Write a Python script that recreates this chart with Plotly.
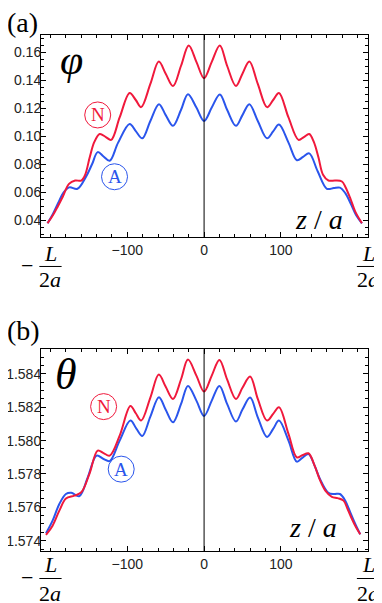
import plotly.graph_objects as go

# ---- panel (a): phi ----
z_phi_N = [-204, -197, -190.8, -184, -176, -168, -160, -155, -149, -143, -136, -128, -121, -110, -97, -89, -82,
           -70, -59, -50, -40.5, -30, -20, -10, 0, 10, 20.5, 30, 41.5, 50, 59, 70, 82, 90, 97.6, 110, 123, 130,
           137, 143, 149, 155, 162, 171, 179.6, 184, 191, 197, 205.7]
phi_N = [0.0378, 0.0435, 0.0497, 0.057, 0.066, 0.0684, 0.0684, 0.0725, 0.085, 0.096, 0.1017, 0.0995, 0.0975,
         0.1135, 0.131, 0.126, 0.1209, 0.1375, 0.1535, 0.1448, 0.136, 0.1505, 0.165, 0.1533, 0.1416, 0.1533,
         0.165, 0.1505, 0.136, 0.1448, 0.1535, 0.1375, 0.1209, 0.126, 0.131, 0.1135, 0.0975, 0.0995, 0.1017,
         0.096, 0.085, 0.0725, 0.0684, 0.0684, 0.0677, 0.064, 0.055, 0.0461, 0.0378]

z_phi_A = [-204, -197, -190, -183, -175.6, -165, -154, -146, -138.6, -131, -123, -112, -97, -89, -80.5, -70,
           -58.8, -50, -40.5, -30, -21, -10, 0, 10, 20.5, 30, 41.5, 50, 59, 70, 82, 90, 97.6, 110, 121, 129, 137,
           148, 160, 169, 177, 184, 191, 198, 205.7]
phi_A = [0.0378, 0.0445, 0.0525, 0.060, 0.0635, 0.0625, 0.071, 0.080, 0.0887, 0.0856, 0.0825, 0.0955, 0.1089,
         0.1037, 0.0986, 0.111, 0.123, 0.1152, 0.1075, 0.119, 0.1302, 0.1206, 0.111, 0.1206, 0.130, 0.119,
         0.1075, 0.1152, 0.123, 0.111, 0.0986, 0.1035, 0.1084, 0.0955, 0.0829, 0.0853, 0.0878, 0.075, 0.0625,
         0.063, 0.0633, 0.0594, 0.052, 0.0438, 0.0378]

# ---- panel (b): theta ----
z_th_N = [-206, -197.4, -188.6, -180, -169, -160, -149.4, -138.6, -131, -123, -110, -96, -89, -82, -70, -59,
          -50, -40.5, -30, -21, -10, 0, 10, 20, 30, 41.5, 50, 60, 70, 82, 90, 97.6, 110, 120.8, 128, 136, 144,
          151, 158, 166.5, 174, 181.7, 187, 192.7, 198, 203.5]
th_N = [1.57434, 1.5749, 1.5758, 1.57653, 1.5767, 1.5769, 1.5780, 1.5794, 1.57925, 1.5791, 1.5803, 1.58208,
        1.58164, 1.5812, 1.58258, 1.58396, 1.58323, 1.5825, 1.58368, 1.58486, 1.5839, 1.58294, 1.5839, 1.58484,
        1.58367, 1.5825, 1.58317, 1.58384, 1.5825, 1.5812, 1.5816, 1.582, 1.5804, 1.5790, 1.57912, 1.57924,
        1.5785, 1.57763, 1.5770, 1.57663, 1.57655, 1.5764, 1.5759, 1.5753, 1.5748, 1.57438]

z_th_A = [-206, -197.4, -188.6, -180, -173, -162.5, -151.6, -140, -131, -123, -110, -96, -88, -80.5, -70,
          -58.8, -50, -40.5, -30, -21, -10, 0, 10, 20, 30, 41.5, 50, 60, 70, 82, 90, 97.6, 110, 120.8, 128, 136,
          144, 151, 162, 170, 177, 184, 190.5, 197, 203.5]
th_A = [1.57444, 1.5752, 1.5762, 1.5768, 1.57687, 1.57667, 1.5778, 1.5791, 1.5789, 1.57877, 1.5800, 1.5812,
        1.5807, 1.58028, 1.58144, 1.5826, 1.58185, 1.5811, 1.5822, 1.58328, 1.5824, 1.58148, 1.5824, 1.58328,
        1.5822, 1.58114, 1.58186, 1.58258, 1.5814, 1.58022, 1.5807, 1.5812, 1.5800, 1.57874, 1.57897, 1.5792,
        1.5785, 1.5777, 1.57687, 1.5768, 1.5768, 1.5764, 1.5757, 1.5750, 1.57438]

x_tickvals = [-100, 0, 100]
RED = '#f0193c'
BLUE = '#2a55ec'
SERIF = 'Liberation Serif'

fig = go.Figure()
for xs, ys, col, ax in [(z_phi_A, phi_A, BLUE, ('x', 'y')), (z_phi_N, phi_N, RED, ('x', 'y')),
                        (z_th_A, th_A, BLUE, ('x2', 'y2')), (z_th_N, th_N, RED, ('x2', 'y2'))]:
    fig.add_trace(go.Scatter(x=xs, y=ys, mode='lines', line=dict(color=col, width=2, shape='spline'),
                             xaxis=ax[0], yaxis=ax[1], showlegend=False, hoverinfo='skip'))

axis_common = dict(showline=True, linecolor='black', linewidth=1, mirror='ticks', ticks='inside',
                   ticklen=5, tickcolor='black', showgrid=False, zeroline=False, automargin=False,
                   tickfont=dict(family='Liberation Sans', size=14, color='#222'))
xr = [-212.5, 213.6]
xminor = dict(ticks='inside', ticklen=3, tickcolor='black', tickmode='linear', tick0=0, dtick=20, showgrid=False)

# page body adds an 8px offset, so the figure is 8px smaller than the window
fig.update_layout(
    width=374, height=595, plot_bgcolor='white', paper_bgcolor='white',
    margin=dict(l=33, r=14, t=27, b=52),
    xaxis=dict(domain=[0, 1], range=xr, anchor='y', tickmode='array', tickvals=x_tickvals,
               minor=xminor, **axis_common),
    yaxis=dict(domain=[0.608, 1], range=[0.0278, 0.1725], anchor='x', tickmode='linear', tick0=0, dtick=0.02,
               tickformat='.2f', ticklabelstandoff=-4,
               minor=dict(ticks='inside', ticklen=3, tickcolor='black', tickmode='linear',
                          tick0=0, dtick=0.005, showgrid=False), **axis_common),
    xaxis2=dict(domain=[0, 1], range=xr, anchor='y2', tickmode='array', tickvals=x_tickvals,
                minor=xminor, **axis_common),
    yaxis2=dict(domain=[0, 0.391], range=[1.57338, 1.58548], anchor='x2', tickmode='linear', tick0=1.574,
                dtick=0.002, tickformat='.3f', ticklabelstandoff=-4,
                minor=dict(ticks='inside', ticklen=3, tickcolor='black', tickmode='linear',
                           tick0=1.574, dtick=0.0005, showgrid=False), **axis_common),
)

# vertical line at z = 0
for xa, ya in [('x', 'y domain'), ('x2', 'y2 domain')]:
    fig.add_shape(type='line', xref=xa, yref=ya, x0=0, x1=0, y0=0, y1=1, line=dict(color='black', width=1))

anns = []
# panel labels
anns.append(dict(text='(a)', xref='paper', yref='paper', x=-0.058, y=1.025, font=dict(family=SERIF, size=28)))
anns.append(dict(text='(b)', xref='paper', yref='paper', x=-0.052, y=0.428, font=dict(family=SERIF, size=28)))
# variable names
anns.append(dict(text='<i>φ</i>', xref='x domain', yref='y domain', x=0.093, y=0.878,
                 font=dict(family=SERIF, size=42)))
anns.append(dict(text='<i>θ</i>', xref='x2 domain', yref='y2 domain', x=0.077, y=0.873,
                 font=dict(family=SERIF, size=44)))
# z/a
anns.append(dict(text='<i>z</i> / <i>a</i>', xref='x domain', yref='y domain', x=0.851, y=0.09,
                 font=dict(family=SERIF, size=28)))
anns.append(dict(text='<i>z</i> / <i>a</i>', xref='x2 domain', yref='y2 domain', x=0.831, y=0.114,
                 font=dict(family=SERIF, size=28)))

# circled curve labels
circ = [('N', RED, 'x', 'y', -138.6, 0.1153), ('A', BLUE, 'x', 'y', -116.7, 0.0711),
        ('N', RED, 'x2', 'y2', -130.9, 1.58204), ('A', BLUE, 'x2', 'y2', -108.0, 1.57829)]
for letter, col, xa, ya, cx, cy in circ:
    fig.add_shape(type='circle', xref=xa, yref=ya, xsizemode='pixel', ysizemode='pixel', xanchor=cx, yanchor=cy,
                  x0=-13, x1=13, y0=-13, y1=13, line=dict(color=col, width=1))
    anns.append(dict(text=letter, xref=xa, yref=ya, x=cx, y=cy,
                     font=dict(family=SERIF, size=19, color=col)))

# fraction tick labels -L/2a and L/2a (paper coordinates)
for yL, yBar, y2a in [(0.5756, 0.5514, 0.5271), (-0.0271, -0.0533, -0.0814)]:
    for xc, sign in [(0.029, True), (1.0, False)]:
        anns.append(dict(text='<i>L</i>', xref='paper', yref='paper', x=xc, y=yL,
                         font=dict(family=SERIF, size=22)))
        anns.append(dict(text='2<i>a</i>', xref='paper', yref='paper', x=xc, y=y2a,
                         font=dict(family=SERIF, size=22)))
        fig.add_shape(type='line', xref='paper', yref='paper', x0=xc - 0.034, x1=xc + 0.034, y0=yBar, y1=yBar,
                      line=dict(color='black', width=1))
        if sign:
            anns.append(dict(text='−', xref='paper', yref='paper', x=-0.044, y=yBar + 0.002,
                             font=dict(family=SERIF, size=22)))

for a in anns:
    a.setdefault('showarrow', False)
    a.setdefault('xanchor', 'center')
    a.setdefault('yanchor', 'middle')
    a['font'].setdefault('color', 'black')
fig.update_layout(annotations=anns)

fig.write_html("out.html")
